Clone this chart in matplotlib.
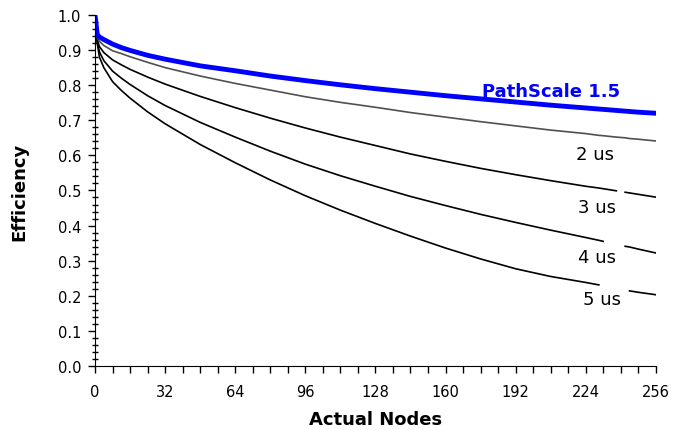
import numpy as np
import matplotlib
matplotlib.use("Agg")
import matplotlib.pyplot as plt
from matplotlib.ticker import MultipleLocator

nan = np.nan
nodes = [0, 1, 2, 4, 8, 12, 16, 24, 32, 48, 64, 80, 96, 112, 128, 144, 160,
         176, 192, 208, 224, 230, 232, 238, 240, 242, 244, 248, 256]

pathscale = [1.0, 0.945, 0.937, 0.930, 0.917, 0.907, 0.899, 0.885, 0.874, 0.855,
             0.841, 0.826, 0.813, 0.801, 0.790, 0.780, 0.770, 0.761, 0.752, 0.743,
             0.735, 0.732, 0.731, 0.728, 0.727, 0.726, 0.725, 0.723, 0.720]
us2 = [1.0, 0.935, 0.925, 0.913, 0.898, 0.890, 0.881, 0.865, 0.850, 0.826,
       0.805, 0.786, 0.767, 0.751, 0.737, 0.722, 0.709, 0.696, 0.684, 0.672,
       0.662, 0.657, 0.656, 0.652, 0.651, 0.650, 0.648, 0.646, 0.641]
us3 = [1.0, 0.93, 0.91, 0.893, 0.872, 0.858, 0.845, 0.823, 0.803, 0.768,
       0.736, 0.706, 0.678, 0.652, 0.628, 0.604, 0.583, 0.563, 0.545, 0.528,
       0.512, 0.507, 0.505, 0.499, nan, 0.495, 0.493, 0.489, 0.481]
us4 = [1.0, 0.925, 0.895, 0.870, 0.840, 0.820, 0.802, 0.770, 0.742, 0.694,
       0.652, 0.612, 0.575, 0.542, 0.512, 0.483, 0.457, 0.432, 0.409, 0.387,
       0.366, 0.358, 0.355, nan, nan, 0.341, 0.339, 0.333, 0.322]
us5 = [1.0, 0.92, 0.88, 0.85, 0.81, 0.785, 0.763, 0.724, 0.690, 0.631,
       0.579, 0.530, 0.485, 0.444, 0.406, 0.370, 0.336, 0.305, 0.277, 0.255,
       0.238, 0.231, nan, nan, nan, nan, 0.214, 0.210, 0.203]

fig = plt.figure(figsize=(6.74, 4.31), dpi=100)
ax = fig.add_axes([0.141, 0.1485, 0.832, 0.8145])

ax.plot(nodes, us5, color="black", lw=1.2)
ax.plot(nodes, us4, color="black", lw=1.2)
ax.plot(nodes, us3, color="black", lw=1.2)
ax.plot(nodes, us2, color="#505050", lw=1.2)
ax.plot(nodes, pathscale, color="#0000ff", lw=3.5)

# curve labels
ax.text(208, 0.782, "PathScale 1.5", color="#0000ff", fontsize=13,
        fontweight="bold", ha="center", va="center")
ax.text(228.4, 0.604, "2 us", fontsize=13, ha="center", va="center")
ax.text(229.3, 0.4535, "3 us", fontsize=13, ha="center", va="center")
ax.text(229.3, 0.3096, "4 us", fontsize=13, ha="center", va="center")
ax.text(231.6, 0.191, "5 us", fontsize=13, ha="center", va="center")

ax.set_xlim(0, 256)
ax.set_ylim(0, 1.0)
ax.xaxis.set_major_locator(MultipleLocator(32))
ax.xaxis.set_minor_locator(MultipleLocator(8))
ax.yaxis.set_major_locator(MultipleLocator(0.1))
ax.yaxis.set_minor_locator(MultipleLocator(0.02))
ax.yaxis.set_major_formatter(plt.FormatStrFormatter("%.1f"))

ax.spines["top"].set_visible(False)
ax.spines["right"].set_visible(False)
ax.tick_params(axis="x", which="both", direction="out", length=5, width=1,
               labelsize=10.5, pad=8)
ax.tick_params(axis="y", which="major", direction="out", length=5, width=1,
               labelsize=10.5, pad=5)
ax.tick_params(axis="y", which="minor", direction="inout", length=4, width=1)

ax.set_xlabel("Actual Nodes", fontsize=13, fontweight="bold", labelpad=8)
ax.set_ylabel("Efficiency", fontsize=13, fontweight="bold", labelpad=21)

fig.savefig("out.png", dpi=100)
